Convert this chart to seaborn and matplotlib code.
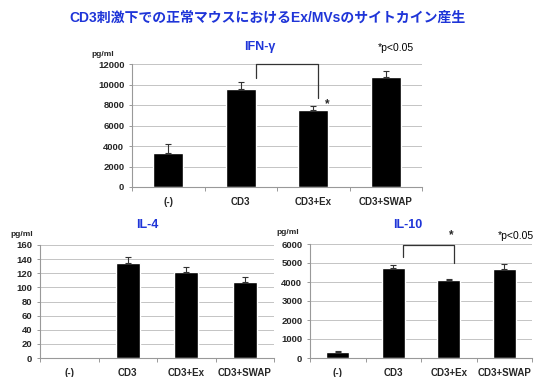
import numpy as np
import pandas as pd
import seaborn as sns
import matplotlib.pyplot as plt

# ---- data ----
groups = ["(-)", "CD3", "CD3+Ex", "CD3+SWAP"]

ifn_mean = [3300, 9600, 7500, 10700]
ifn_err = [900, 650, 400, 600]

il4_mean = [np.nan, 135, 122, 107]
il4_err = [np.nan, 8, 7, 8]

il10_mean = [300, 4720, 4100, 4680]
il10_err = [60, 190, 60, 260]

BLUE = "#1f35d8"
W, H = 534, 377

sns.set_theme(style="whitegrid")
plt.rcParams['font.family'] = ['Liberation Sans', 'Noto Sans CJK JP', 'DejaVu Sans']

fig = plt.figure(figsize=(W / 100, H / 100), dpi=100)
fig.patch.set_facecolor("white")


def px(x, y):
    return x / W, 1 - y / H


def panel(rect, mean, err, ymax, step):
    ax = fig.add_axes(rect)
    df = pd.DataFrame({"group": groups, "value": mean})
    sns.barplot(data=df, x="group", y="value", order=groups, color="black",
                width=0.41, saturation=1, errorbar=None, ax=ax)
    mean = np.array(mean, dtype=float)
    err = np.array(err, dtype=float)
    ok = ~np.isnan(mean)
    xs = np.arange(len(groups))[ok]
    ax.errorbar(xs, mean[ok], yerr=[np.zeros(ok.sum()), err[ok]], fmt="none",
                ecolor="#333333", elinewidth=0.8, capsize=2.5, capthick=0.8)
    ax.set_xlim(-0.5, 3.5)
    ax.set_ylim(0, ymax)
    ax.set_yticks(np.arange(0, ymax + step, step))
    ax.set_xticks(range(len(groups)))
    ax.set_xticklabels(groups, fontsize=7, fontweight="bold")
    for t in ax.get_yticklabels():
        t.set_fontsize(6.8)
        t.set_fontweight("bold")
    ax.set_xticks(np.arange(-0.5, 4, 1), minor=True)
    ax.tick_params(axis="x", which="major", length=0, pad=7)
    ax.tick_params(axis="x", which="minor", length=3, color="#999999", width=0.7, bottom=True)
    ax.tick_params(axis="y", length=2.5, color="#999999", width=0.7, left=True, pad=3)
    ax.set_xlabel("")
    ax.set_ylabel("")
    ax.xaxis.grid(False)
    ax.yaxis.grid(True, color="#c4c4c4", lw=0.7)
    ax.set_axisbelow(True)
    ax.set_facecolor("white")
    for s in ["top", "right"]:
        ax.spines[s].set_visible(False)
    for s in ["left", "bottom"]:
        ax.spines[s].set_color("#999999")
        ax.spines[s].set_linewidth(0.8)
    return ax


# IFN-gamma
ax1 = panel([132 / W, 1 - 187 / H, 290 / W, 123 / H], ifn_mean, ifn_err, 12000, 2000)
ax1.plot([1.21, 1.21, 2.07, 2.07], [10600, 12000, 12000, 8700], color="#333333", lw=0.9, clip_on=False)
ax1.text(2.2, 8100, "*", fontsize=8.5, fontweight="bold", ha="center", va="center")

# IL-4
ax2 = panel([40 / W, 1 - 358 / H, 234 / W, 113 / H], il4_mean, il4_err, 160, 20)

# IL-10
ax3 = panel([310 / W, 1 - 358 / H, 222 / W, 114 / H], il10_mean, il10_err, 6000, 1000)
ax3.plot([1.18, 1.18, 2.09, 2.09], [5300, 5950, 5950, 5000], color="#333333", lw=0.9, clip_on=False)
ax3.text(2.05, 6450, "*", fontsize=8.5, fontweight="bold", ha="center", va="center", clip_on=False)

# texts
fig.text(*px(267, 18), "CD3刺激下での正常マウスにおけるEx/MVsのサイトカイン産生",
         fontsize=10, fontweight="bold", color=BLUE, ha="center", va="center",
         family=['Liberation Sans', 'Noto Sans CJK JP'])
fig.text(*px(260, 47), "IFN-γ", fontsize=9, fontweight="bold", color=BLUE, ha="center", va="center")
fig.text(*px(147, 225), "IL-4", fontsize=9, fontweight="bold", color=BLUE, ha="center", va="center")
fig.text(*px(408, 225), "IL-10", fontsize=9, fontweight="bold", color=BLUE, ha="center", va="center")
fig.text(*px(396, 48), "*p<0.05", fontsize=7.5, color="black", ha="center", va="center")
fig.text(*px(516, 236), "*p<0.05", fontsize=7.5, color="black", ha="center", va="center")
fig.text(*px(103, 55), "pg/ml", fontsize=6, fontweight="bold", ha="center", va="center")
fig.text(*px(22, 234), "pg/ml", fontsize=6, fontweight="bold", ha="center", va="center")
fig.text(*px(288, 233), "pg/ml", fontsize=6, fontweight="bold", ha="center", va="center")

fig.savefig("out.png", dpi=100)
